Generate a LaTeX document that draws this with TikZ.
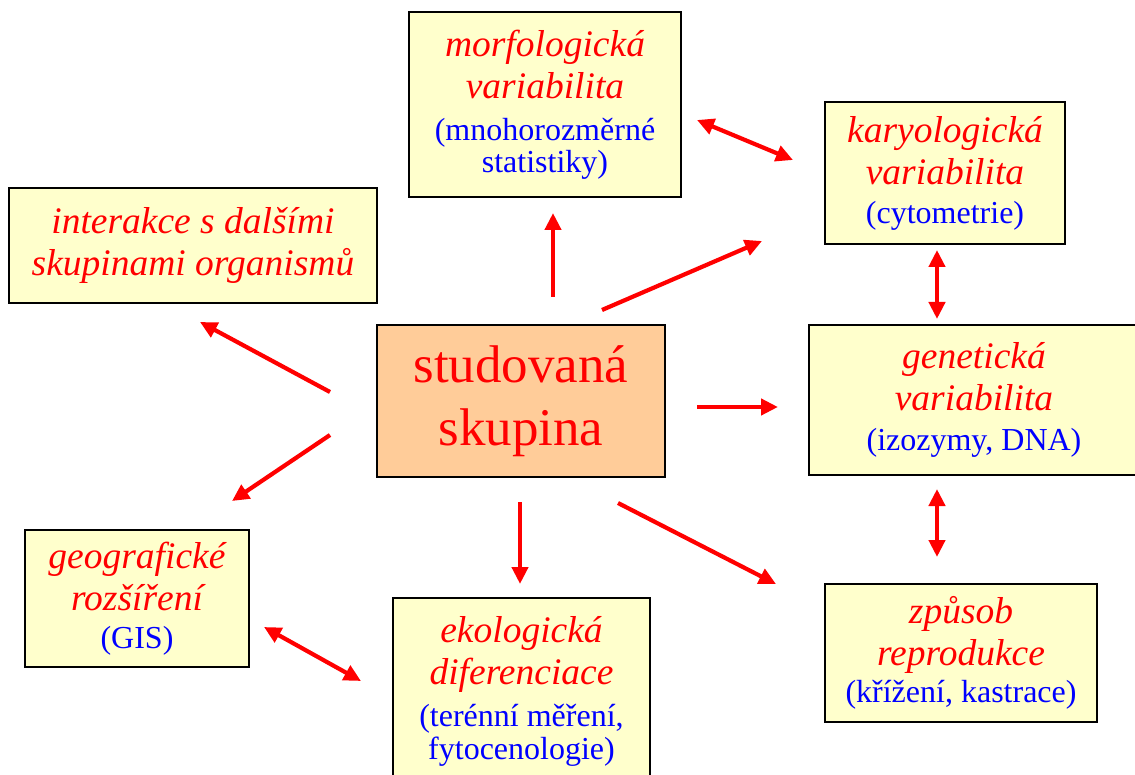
\documentclass[tikz,border=0pt]{standalone}
\usepackage{fontspec}
\setmainfont{Liberation Serif}
\usetikzlibrary{arrows.meta}
\definecolor{boxyellow}{RGB}{255,255,204}
\definecolor{boxorange}{RGB}{255,204,153}
\definecolor{txtred}{RGB}{255,0,0}
\definecolor{txtblue}{RGB}{0,0,255}
\newcommand{\redf}{\color{txtred}\itshape\fontsize{37.5}{42}\selectfont}
\newcommand{\bl}[1]{{\color{txtblue}\upshape\fontsize{32}{42}\selectfont #1}}
\tikzset{
  infobox/.style={draw=black, line width=1.8pt, fill=boxyellow, align=center, inner sep=0pt, font=\redf},
  mainbox/.style={draw=black, line width=1.8pt, fill=boxorange, align=center, inner sep=0pt,
    font=\color{txtred}\fontsize{53}{63}\selectfont},
  arr/.style={draw=txtred, line width=4.2pt, -{Triangle[length=17pt,width=16pt]}},
  dblarr/.style={draw=txtred, line width=4.2pt, {Triangle[length=17pt,width=16pt]}-{Triangle[length=17pt,width=16pt]}},
}
\begin{document}
\begin{tikzpicture}[x=1pt,y=-1pt]
\useasboundingbox (0,0) rectangle (1135,775);
\clip (0,0) rectangle (1135,775);
\fill[white] (0,0) rectangle (1135,775);
% boxes
\node[infobox, minimum width=272pt, minimum height=185pt] (morfo) at (545,104.5)
  {morfologická\\variabilita\\\bl{(mnohorozměrné}\\[-10pt]\bl{statistiky)}};
\node[infobox, minimum width=240pt, minimum height=142pt] (karyo) at (945,173)
  {karyologická\\variabilita\\[-3pt]\bl{(cytometrie)}};
\node[infobox, minimum width=368pt, minimum height=115pt] (inter) at (193,245.5)
  {interakce s dalšími\\skupinami organismů};
\node[mainbox, minimum width=288pt, minimum height=152pt] (main) at (521,401)
  {studovaná\\skupina};
\node[infobox, minimum width=330pt, minimum height=150pt] (gen) at (974,400)
  {genetická\\variabilita\\[-2pt]\bl{(izozymy, DNA)}};
\node[infobox, minimum width=224pt, minimum height=137pt] (geo) at (137,598.5)
  {geografické\\rozšíření\\[-4pt]\bl{(GIS)}};
\node[infobox, minimum width=257pt, minimum height=186pt] (eko) at (521.5,691)
  {ekologická\\diferenciace\\\bl{(terénní měření,}\\[-9pt]\bl{fytocenologie)}};
\node[infobox, minimum width=272pt, minimum height=138pt] (repro) at (961,653)
  {způsob\\reprodukce\\[-5pt]\bl{(křížení, kastrace)}};
% arrow end points
\coordinate (a1s) at (553,297);  \coordinate (a1e) at (553,213);
\coordinate (a2s) at (602,310);  \coordinate (a2e) at (762,241);
\coordinate (a3s) at (697,120);  \coordinate (a3e) at (793,160);
\coordinate (a4s) at (937,250);  \coordinate (a4e) at (937,319);
\coordinate (a5s) at (937,489);  \coordinate (a5e) at (937,557);
\coordinate (a6s) at (697,407);  \coordinate (a6e) at (778,407);
\coordinate (a7s) at (618,503);  \coordinate (a7e) at (776,584);
\coordinate (a8s) at (520,502);  \coordinate (a8e) at (520,584);
\coordinate (a9s) at (330,435);  \coordinate (a9e) at (232,501);
\coordinate (a10s) at (330,392); \coordinate (a10e) at (200,322);
\coordinate (a11s) at (264,627); \coordinate (a11e) at (361,681);
% arrows
\draw[arr] (a1s) -- (a1e);
\draw[arr] (a2s) -- (a2e);
\draw[dblarr] (a3s) -- (a3e);
\draw[dblarr] (a4s) -- (a4e);
\draw[dblarr] (a5s) -- (a5e);
\draw[arr] (a6s) -- (a6e);
\draw[arr] (a7s) -- (a7e);
\draw[arr] (a8s) -- (a8e);
\draw[arr] (a9s) -- (a9e);
\draw[arr] (a10s) -- (a10e);
\draw[dblarr] (a11s) -- (a11e);
\end{tikzpicture}
\end{document}
